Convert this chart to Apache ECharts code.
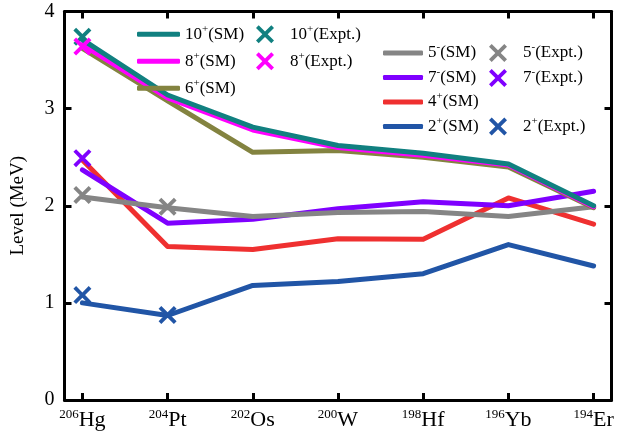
<!DOCTYPE html>
<html>
<head>
<meta charset="utf-8">
<script src="https://cdn.jsdelivr.net/npm/echarts@6/dist/echarts.min.js"></script>
<style>
  html, body { margin: 0; padding: 0; background: #fff; }
  #chart { width: 634px; height: 441px; }
</style>
</head>
<body>
<div id="chart"></div>
<script>
// Nuclei along the chain: mass number and element symbol
const massNumbers = ['206', '204', '202', '200', '198', '196', '194'];
const elements = ['Hg', 'Pt', 'Os', 'W', 'Hf', 'Yb', 'Er'];
const yTicks = [0, 1, 2, 3, 4];

// Shell-model level energies (MeV)
const sm10 = [3.71, 3.14, 2.81, 2.62, 2.54, 2.43, 2.00];
const sm8  = [3.66, 3.11, 2.78, 2.60, 2.52, 2.42, 1.99];
const sm6  = [3.62, 3.08, 2.55, 2.57, 2.50, 2.40, 1.98];
const sm5m = [2.09, 1.98, 1.89, 1.93, 1.94, 1.89, 1.99];
const sm7m = [2.37, 1.82, 1.86, 1.97, 2.04, 2.00, 2.15];
const sm4  = [2.47, 1.58, 1.55, 1.66, 1.655, 2.08, 1.81];
const sm2  = [1.00, 0.87, 1.18, 1.22, 1.30, 1.60, 1.38];

// Measured level energies (MeV), null where not known
const ex10  = [3.74, null, null, null, null, null, null];
const ex8   = [3.64, null, null, null, null, null, null];
const ex5m  = [2.11, 1.99, null, null, null, null, null];
const ex7m  = [2.49, null, null, null, null, null, null];
const ex2   = [1.08, 0.875, null, null, null, null, null];

const C = {
  s10: '#118080', s8: '#ff00ff', s6: '#838340', s5: '#858585',
  s7: '#7f00ff', s4: '#ef3030', s2: '#2155a6'
};

const FONT = 'Liberation Serif';
const cross = 'path://M3,0L10,7L17,0L20,3L13,10L20,17L17,20L10,13L3,20L0,17L7,10L0,3Z';
const idx = massNumbers.map((_, i) => i);

const pairs = arr => arr.map((v, i) => [i, v]).filter(p => p[1] !== null);

function smSeries(name, data, color) {
  return {
    name, type: 'line', data: pairs(data), symbol: 'none',
    lineStyle: { color, width: 5, join: 'round', cap: 'round' },
    itemStyle: { color }, emphasis: { disabled: true }, z: 2
  };
}
function exSeries(name, data, color) {
  return {
    name, type: 'scatter', data: pairs(data), symbol: cross, symbolSize: 18,
    itemStyle: { color, opacity: 1 }, emphasis: { disabled: true }, z: 5
  };
}

// "10+(SM)" -> 10 with a raised sign
function supLabel(name) {
  const m = name.match(/^(\d+)([+-])(.*)$/);
  return '{n|' + m[1] + '}{s|' + m[2] + '}{n|' + m[3] + '}';
}
const legendRich = {
  n: { fontFamily: FONT, fontSize: 17, color: '#000', lineHeight: 22 },
  s: { fontFamily: FONT, fontSize: 11, color: '#000', verticalAlign: 'top' }
};
function legendBox(left, top, names, opts) {
  return Object.assign({
    left, top, orient: 'vertical', padding: 0, selectedMode: false,
    itemWidth: 43, itemHeight: 5, itemGap: 7.5,
    data: names,
    formatter: supLabel,
    textStyle: { rich: legendRich }
  }, opts || {});
}
const exptText = { rich: legendRich, padding: [0, 0, 0, 11] };

const frameLine = { show: true, onZero: false, lineStyle: { color: '#000', width: 3 } };
const frameTick = { show: true, inside: true, length: 7, lineStyle: { color: '#000', width: 3 } };

const option = {
  animation: false,
  backgroundColor: '#fff',
  grid: { left: 64.5, right: 22.5, top: 11.5, bottom: 41 },
  xAxis: [
    {
      type: 'value', min: -0.21, max: 6.21, position: 'bottom',
      axisLine: frameLine,
      axisTick: Object.assign({ customValues: idx }, frameTick),
      splitLine: { show: false },
      axisLabel: {
        customValues: idx, margin: 8,
        formatter: v => '{m|' + massNumbers[Math.round(v)] + '}{e|' + elements[Math.round(v)] + '}',
        rich: {
          m: { fontFamily: FONT, fontSize: 13, color: '#000', verticalAlign: 'top' },
          e: { fontFamily: FONT, fontSize: 22, color: '#000', lineHeight: 25 }
        }
      }
    },
    {
      type: 'value', min: -0.21, max: 6.21, position: 'top',
      axisLine: frameLine,
      axisTick: Object.assign({ customValues: idx }, frameTick),
      axisLabel: { show: false }, splitLine: { show: false }
    }
  ],
  yAxis: [
    {
      type: 'value', min: yTicks[0], max: yTicks[yTicks.length - 1], interval: 1, position: 'left',
      name: 'Level (MeV)', nameLocation: 'middle', nameGap: 37,
      nameTextStyle: { fontFamily: FONT, fontSize: 19, color: '#000' },
      axisLine: frameLine, axisTick: frameTick, splitLine: { show: false },
      axisLabel: { fontFamily: FONT, fontSize: 20, color: '#000', margin: 10 }
    },
    {
      type: 'value', min: yTicks[0], max: yTicks[yTicks.length - 1], interval: 1, position: 'right',
      axisLine: frameLine, axisTick: frameTick, splitLine: { show: false },
      axisLabel: { show: false }
    }
  ],
  legend: [
    legendBox(137, 23.3, [
      { name: '10+(SM)', icon: 'roundRect' },
      { name: '8+(SM)', icon: 'roundRect' },
      { name: '6+(SM)', icon: 'roundRect' }
    ]),
    legendBox(256, 23.3, ['10+(Expt.)', '8+(Expt.)'],
      { itemWidth: 18, itemHeight: 18, itemGap: 7, textStyle: exptText }),
    legendBox(383, 42, [
      { name: '5-(SM)', icon: 'roundRect' },
      { name: '7-(SM)', icon: 'roundRect' },
      { name: '4+(SM)', icon: 'roundRect' },
      { name: '2+(SM)', icon: 'roundRect' }
    ], { itemWidth: 40, itemGap: 5 }),
    legendBox(489, 42, ['5-(Expt.)', '7-(Expt.)'],
      { itemWidth: 18, itemHeight: 18, itemGap: 5, textStyle: exptText }),
    legendBox(489, 115.5, ['2+(Expt.)'],
      { itemWidth: 18, itemHeight: 18, textStyle: exptText })
  ],
  series: [
    smSeries('2+(SM)', sm2, C.s2),
    smSeries('4+(SM)', sm4, C.s4),
    smSeries('7-(SM)', sm7m, C.s7),
    smSeries('5-(SM)', sm5m, C.s5),
    smSeries('6+(SM)', sm6, C.s6),
    smSeries('8+(SM)', sm8, C.s8),
    smSeries('10+(SM)', sm10, C.s10),
    exSeries('10+(Expt.)', ex10, C.s10),
    exSeries('8+(Expt.)', ex8, C.s8),
    exSeries('5-(Expt.)', ex5m, C.s5),
    exSeries('7-(Expt.)', ex7m, C.s7),
    exSeries('2+(Expt.)', ex2, C.s2)
  ]
};

const chart = echarts.init(document.getElementById('chart'), null, { renderer: 'canvas' });
chart.setOption(option);
</script>
</body>
</html>
